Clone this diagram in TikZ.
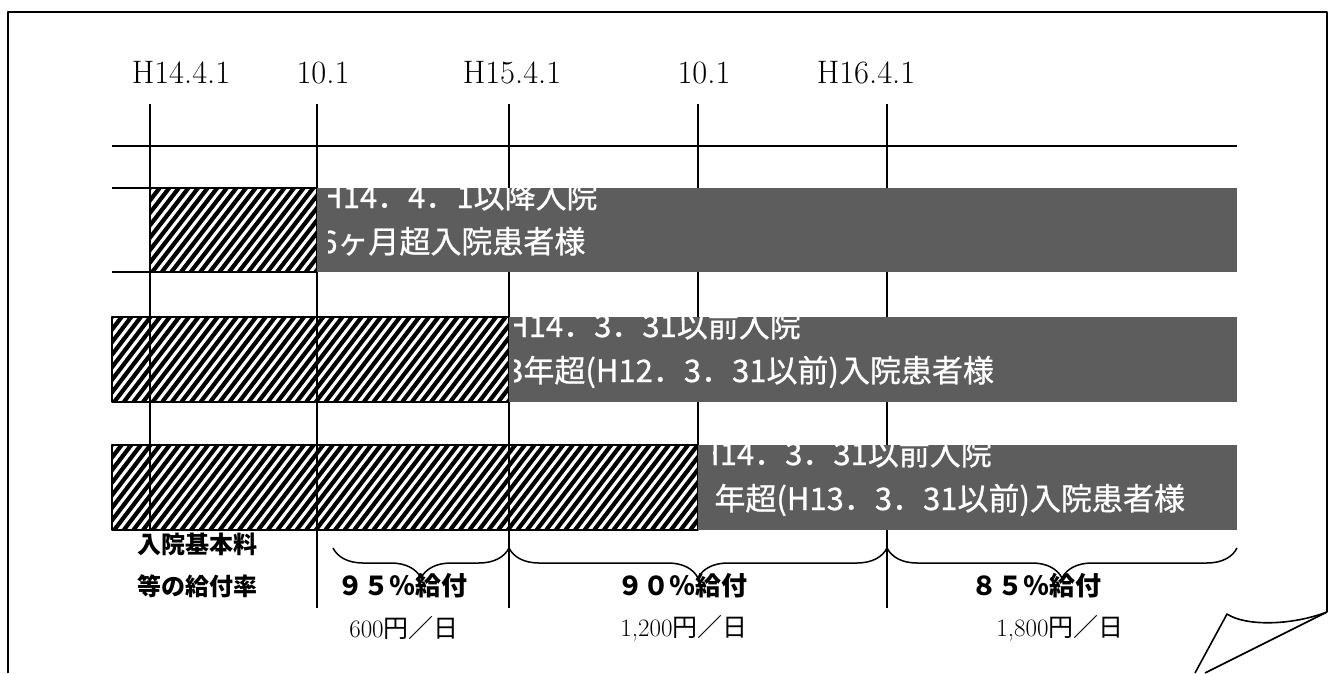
\documentclass[tikz,border=0pt]{standalone}
\usepackage{fontspec}
\newfontfamily\jp{Noto Sans CJK JP}
\newfontfamily\jpbar[FakeBold=0.8]{Noto Sans CJK JP}
\usetikzlibrary{decorations.pathreplacing}
\definecolor{barcol}{RGB}{93,93,93}
\begin{document}
\begin{tikzpicture}[x=1pt,y=-1pt,line join=round,
	grid/.style={line width=1.5pt},
	bartext/.style={anchor=base west,inner sep=0pt,text=white,font=\jpbar\fontsize{31}{31}\selectfont},
	rate/.style={inner sep=0pt,font=\jp\bfseries\fontsize{26}{26}\selectfont},
	rowlabel/.style={inner sep=0pt,font=\jp\bfseries\fontsize{24}{24}\selectfont},
	fee/.style={inner sep=0pt,font=\fontsize{25}{25}\selectfont},
	date/.style={anchor=base,inner sep=0pt,font=\fontsize{32.5}{33}\selectfont}]
	\useasboundingbox (0,0) rectangle (1328,673);
	% row label, partly under the last hatched bar
	\node[rowlabel] (kihon) at (197,544) {入院基本料};
	\node[rowlabel] (kyufu) at (197,586) {等の給付率};
	% hatched bars
	\foreach \n/\xa/\xb/\ya/\yb in {1/150/317/188/272,2/112/509/317/402,3/112/698/445/530}{
		\fill[white] (\xa,\ya) rectangle (\xb,\yb);
		\begin{scope}
			\clip (\xa,\ya) rectangle (\xb,\yb);
			\foreach \s in {0,9.6,...,670}
			\draw[line width=4.2pt] ({\xa-65+\s},\yb) -- ++(65,{\ya-\yb});
		\end{scope}
		\draw[grid] (\xa,\ya) rectangle (\xb,\yb);
	}
	% grid
	\draw[grid] (112,146) -- (1237,146) (112,188) -- (150,188) (112,272) -- (150,272);
	\foreach \i/\x/\e in {1/150/530,2/317/608,3/509/608,4/698/445,5/887/608}{
		\path (\x,104) coordinate (top\i) (\x,\e) coordinate (bot\i);
		\draw[grid] (top\i) -- (bot\i);
	}
	% grey bars and their texts
	\foreach \n/\xb/\ya/\yb in {1/317/188/272,2/509/317/402,3/698/445/530}
	\fill[barcol] (\xb,\ya) rectangle (1237,\yb);
	\foreach \n/\xt/\xc/\ya/\yb/\ta/\tb in {1/320/328/188/272/{H14．4．1以降入院}/{6ヶ月超入院患者様},
		2/506/514/317/402/{H14．3．31以前入院}/{3年超(H12．3．31以前)入院患者様},
		3/697/713/445/530/{H14．3．31以前入院}/{2年超(H13．3．31以前)入院患者様}}{
		\begin{scope}
			\clip (\xc,\ya) rectangle (1237,\yb);
			\node[bartext] (t\n a) at (\xt,{\ya+20}) {\ta};
			\node[bartext] (t\n b) at (\xt,{\ya+65}) {\tb};
		\end{scope}
	}
	% braces and rates
	\path (333,548) coordinate (b1) (509,548) coordinate (b2) (887,548) coordinate (b3) (1237,548) coordinate (b4);
	\foreach \i/\j in {1/2,2/3,3/4}
	\draw[grid,decorate,decoration={brace,mirror,amplitude=30pt}] (b\i) -- (b\j);
	\node[rate] (r95) at (402,586) {９５％給付};
	\node[rate] (r90) at (682,586) {９０％給付};
	\node[rate] (r85) at (1036,586) {８５％給付};
	\node[fee] (f95) at (404,628) {600\jp 円／日};
	\node[fee] (f90) at (684,628) {1,200\jp 円／日};
	\node[fee] (f85) at (1060,628) {1,800\jp 円／日};
	% dates
	\foreach \x/\t in {181/H14.4.1,323/10.1,512/H15.4.1,704/10.1,866/H16.4.1}
	\node[date] (d\x) at (\x,83) {\t};
	% sheet with curled corner
	\draw[line width=2pt] (8,673) -- (8,12) -- (1327,12) -- (1327,612);
	\draw[line width=1.6pt] (1327,612) .. controls (1290,626) and (1245,626) .. (1227,614) -- (1195,673);
	\draw[line width=1.6pt] (1327,612) -- (1205,673);
\end{tikzpicture}
\end{document}
